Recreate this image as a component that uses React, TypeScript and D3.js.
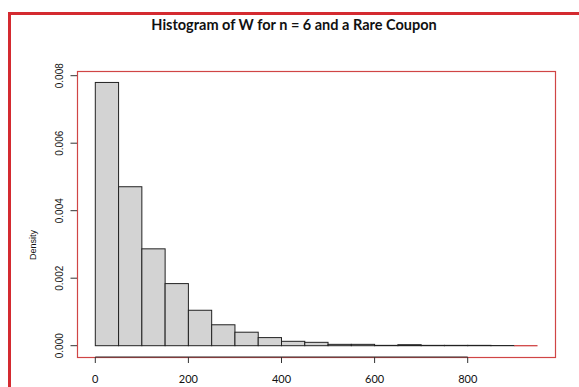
import React from "react";
import * as d3 from "d3";

// Histogram bins of W (width 50) and their densities
const binStarts: number[] = [0, 50, 100, 150, 200, 250, 300, 350, 400, 450, 500, 550, 600, 650, 700, 750, 800, 850];
const densities: number[] = [0.0078, 0.00471, 0.00287, 0.00184, 0.00105, 0.00062, 0.0004, 0.00024, 0.00013, 0.0001, 0.00004, 0.00004, 0.00001, 0.00003, 0.00001, 0.00001, 0.00001, 0.000005];
const binWidth = 50;
const xTicks: number[] = [0, 200, 400, 600, 800];
const yTicks: number[] = [0, 0.002, 0.004, 0.006, 0.008];
const titleText = "Histogram of W for n = 6 and a Rare Coupon";
const yLabel = "Density";

export default function App() {
  const W = 579;
  const H = 387;
  const box = { left: 77, top: 71, right: 555, bottom: 357 };

  const x = d3.scaleLinear().domain([0, 800]).range([95.3, 467.7]);
  const y = d3.scaleLinear().domain([0, 0.008]).range([345.7, 75.7]);

  const bars = binStarts.map((s, i) => ({ s, e: s + binWidth, d: densities[i] }));
  const lastEnd = binStarts[binStarts.length - 1] + binWidth;

  return (
    <svg
      width={W}
      height={H}
      style={{ position: "absolute", left: 0, top: 0, background: "#fff" }}
    >
      {/* outer frame */}
      <rect x={9.5} y={13.5} width={W + 20} height={H + 20} fill="none" stroke="#d42a30" strokeWidth={3} />

      <text
        x={294}
        y={30}
        textAnchor="middle"
        fontFamily="Lato, 'Open Sans', sans-serif"
        fontWeight="bold"
        fontSize={14.5}
        fill="#111"
      >
        {titleText}
      </text>

      {/* plot region */}
      <rect
        x={box.left + 0.5}
        y={box.top + 0.5}
        width={box.right - box.left}
        height={box.bottom - box.top}
        fill="none"
        stroke="#d04545"
        strokeWidth={1.2}
      />

      {/* bars */}
      {bars.map((b, i) => (
        <rect
          key={i}
          x={x(b.s)}
          y={y(b.d)}
          width={x(b.e) - x(b.s)}
          height={y(0) - y(b.d)}
          fill="#d3d3d3"
          stroke="#222"
          strokeWidth={1}
        />
      ))}
      <line x1={x(lastEnd)} x2={x(lastEnd + binWidth)} y1={y(0)} y2={y(0)} stroke="#d04545" strokeWidth={1.3} />

      {/* x axis */}
      <line x1={x(0)} x2={x(800)} y1={box.bottom} y2={box.bottom} stroke="#333" strokeWidth={1} />
      {xTicks.map((t) => (
        <g key={t}>
          <line x1={x(t)} x2={x(t)} y1={box.bottom} y2={box.bottom + 6} stroke="#333" />
          <text
            x={x(t)}
            y={383}
            textAnchor="middle"
            fontFamily="Lato, 'Open Sans', sans-serif"
            fontSize={11}
            fill="#111"
          >
            {t}
          </text>
        </g>
      ))}

      {/* y axis */}
      {yTicks.map((t) => (
        <g key={t}>
          <line x1={box.left - 6.5} x2={box.left} y1={y(t)} y2={y(t)} stroke="#333" />
          <text
            transform={`translate(${62.5},${y(t)}) rotate(-90)`}
            textAnchor="middle"
            fontFamily="'Liberation Sans', Arial, sans-serif"
            fontSize={10}
            fill="#111"
          >
            {t.toFixed(3)}
          </text>
        </g>
      ))}
      <text
        transform={`translate(${36},${245}) rotate(-90)`}
        textAnchor="middle"
        fontFamily="'Liberation Sans', Arial, sans-serif"
        fontSize={9}
        fill="#111"
      >
        {yLabel}
      </text>
    </svg>
  );
}
